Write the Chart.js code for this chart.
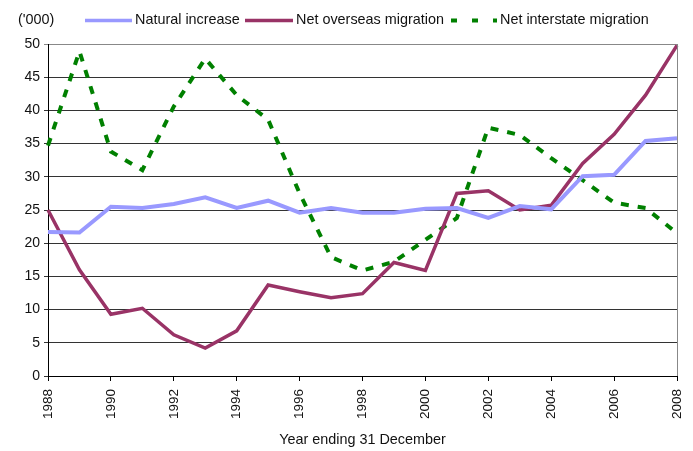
<!DOCTYPE html>
<html>
<head>
<meta charset="utf-8">
<script src="https://cdn.jsdelivr.net/npm/chart.js@4/dist/chart.umd.min.js"></script>
<style>
  html, body { margin: 0; padding: 0; background: #fff; }
  #wrap { width: 693px; height: 451px; }
</style>
</head>
<body>
<div id="wrap"><canvas id="c" width="693" height="451"></canvas></div>
<script>
const years = ['1988','1989','1990','1991','1992','1993','1994','1995','1996','1997','1998','1999','2000','2001','2002','2003','2004','2005','2006','2007','2008'];
const naturalIncrease = [21.7,21.6,25.5,25.3,25.9,26.9,25.3,26.4,24.6,25.3,24.6,24.6,25.2,25.3,23.8,25.6,25.1,30.1,30.3,35.4,35.8];
const netOverseasMigration = [25.0,16.0,9.3,10.2,6.2,4.2,6.8,13.7,12.7,11.8,12.4,17.1,15.9,27.5,27.9,25.0,25.7,32.0,36.4,42.3,49.8];
const netInterstateMigration = [34.7,48.9,33.8,31.0,40.6,47.8,42.3,38.6,27.5,17.9,15.9,17.2,20.5,23.8,37.4,36.3,32.8,29.5,26.1,25.3,21.5];
const seriesNames = ['Natural increase','Net overseas migration','Net interstate migration'];
const unitLabel = "('000)";
const xTitle = 'Year ending 31 December';

const FONT = '"Liberation Sans", Arial, sans-serif';

const legendPlugin = {
  id: 'customLegend',
  afterDraw(chart) {
    const ctx = chart.ctx;
    const ds = chart.data.datasets;
    const starts = [85, 245, 451];
    const lens = [47, 48, 46];
    const dashes = [[], [], [6, 15]];
    const widths = [3.5, 3.5, 4];
    ctx.save();
    ctx.font = '14.4px ' + FONT;
    ctx.fillStyle = '#111';
    ctx.textBaseline = 'middle';
    const y = 20.5;
    ctx.fillText(unitLabel, 18, y);
    ds.forEach((d, i) => {
      const x = starts[i];
      ctx.save();
      ctx.strokeStyle = d.borderColor;
      ctx.lineWidth = widths[i];
      ctx.lineCap = 'butt';
      ctx.setLineDash(dashes[i]);
      ctx.beginPath();
      ctx.moveTo(x, y);
      ctx.lineTo(x + lens[i], y);
      ctx.stroke();
      ctx.restore();
      ctx.fillText(d.label, x + lens[i] + 3, y);
    });
    // right border of plot area
    const a = chart.chartArea;
    ctx.strokeStyle = '#888';
    ctx.lineWidth = 1;
    ctx.beginPath();
    ctx.moveTo(Math.round(a.right) + 0.5, a.top);
    ctx.lineTo(Math.round(a.right) + 0.5, a.bottom);
    ctx.stroke();
    ctx.restore();
  }
};

new Chart(document.getElementById('c'), {
  type: 'line',
  data: {
    labels: years,
    datasets: [
      { label: seriesNames[0], data: naturalIncrease, borderColor: '#9999FF', backgroundColor: '#9999FF', borderWidth: 4, pointRadius: 0, tension: 0 },
      { label: seriesNames[1], data: netOverseasMigration, borderColor: '#993366', backgroundColor: '#993366', borderWidth: 3.5, pointRadius: 0, tension: 0 },
      { label: seriesNames[2], data: netInterstateMigration, borderColor: '#008000', backgroundColor: '#008000', borderWidth: 4, borderDash: [8, 9], borderCapStyle: 'butt', pointRadius: 0, tension: 0 }
    ]
  },
  options: {
    responsive: false,
    animation: false,
    layout: { padding: { top: 44, right: 16, left: 0, bottom: 0 } },
    plugins: { legend: { display: false }, tooltip: { enabled: false } },
    scales: {
      x: {
        type: 'category',
        offset: false,
        afterFit(s) { s.height = 75; s.paddingLeft = 0; s.paddingRight = 0; },
        border: { display: true, color: '#000', width: 1 },
        grid: {
          drawOnChartArea: false,
          drawTicks: true,
          tickLength: 5,
          color: (c) => (c.index % 2 === 0 ? '#000' : 'rgba(0,0,0,0)')
        },
        ticks: {
          autoSkip: false,
          maxRotation: 90,
          minRotation: 90,
          padding: 8,
          color: '#111',
          font: { family: FONT, size: 13.5 },
          callback: function(v, i) { return i % 2 === 0 ? this.getLabelForValue(v) : ''; }
        },
        title: {
          display: true,
          text: xTitle,
          color: '#111',
          font: { family: FONT, size: 14.4 },
          padding: { top: 0, bottom: 2 }
        }
      },
      y: {
        min: 0,
        max: 50,
        afterFit(s) { s.width = 48; s.paddingTop = 0; s.paddingBottom = 0; },
        border: { display: true, color: '#000', width: 1 },
        grid: {
          drawTicks: true,
          tickLength: 4,
          color: (c) => (c.tick && c.tick.value === 50 ? '#888' : '#333'),
          lineWidth: 1
        },
        ticks: {
          stepSize: 5,
          padding: 4,
          color: '#111',
          font: { family: FONT, size: 14 }
        }
      }
    }
  },
  plugins: [legendPlugin]
});
</script>
</body>
</html>
